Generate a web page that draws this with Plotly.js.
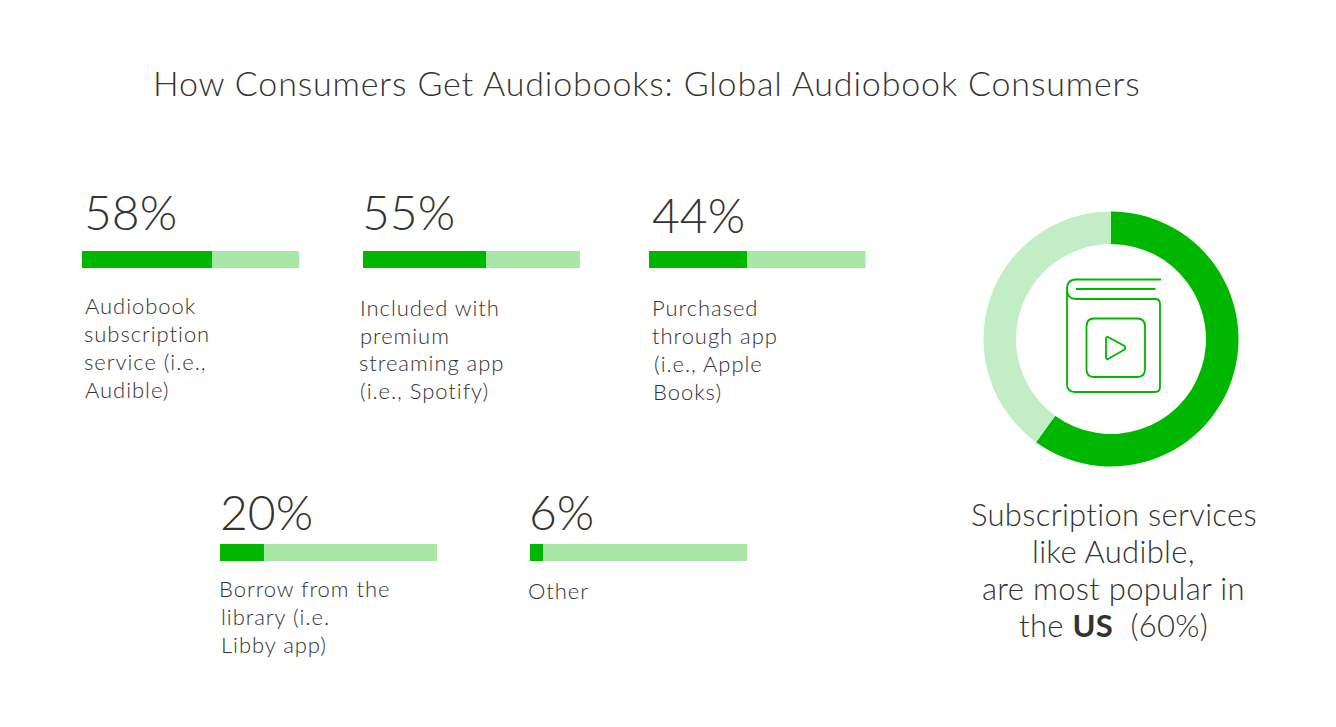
<!DOCTYPE html>
<html><head><meta charset="utf-8">
<script src="https://cdn.plot.ly/plotly-3.0.1.min.js"></script>
<style>html,body{margin:0;padding:0;background:#fff}#c{width:1336px;height:727px}
.annotation-text[style*="font-size: 34px"]{letter-spacing:.85px}
.annotation-text[style*="font-size: 22px"]{letter-spacing:.95px}
.annotation-text[style*="font-size: 31px"]{letter-spacing:.3px}
</style>
</head><body><div id="c"></div>
<script>
const W=1336,H=727;
const chartTitle="How Consumers Get Audiobooks: Global Audiobook Consumers";
const categories=["Audiobook subscription service (i.e., Audible)","Included with premium streaming app (i.e., Spotify)","Purchased through app (i.e., Apple Books)","Borrow from the library (i.e. Libby app)","Other"];
const shares=[58,55,44,20,6];
const valueLabels=["58%","55%","44%","20%","6%"];
const labelLines=[["Audiobook","subscription","service (i.e.,","Audible)"],["Included with","premium","streaming app","(i.e., Spotify)"],["Purchased","through app","(i.e., Apple","Books)"],["Borrow from the","library (i.e.","Libby app)"],["Other"]];
const donutLabels=["US subscription services","Other"];
const donutValues=[60,40];
const calloutLines=["Subscription services","like Audible,","are most popular in","the <b>US</b>  (60%)"];

const DARK="#00b700",LIGHT="#a7e8a7",PALE="#c3edc5",INK="#333333";
const boxes=[[82,299,251,268],[363,580,251,268],[648.5,865.5,251,268],[219.5,437,544,561],[530,747,544,561]];
const valuePos=[[81.5,211.5],[359.5,211.5],[650,214.5],[218,511.5],[526.5,511.5]];
const linePos=[
 [[83,305],[82,333],[82,361],[83,389]],
 [[358,307],[358,335],[357,362.5],[358,390.5]],
 [[650,307],[650,335.5],[652,363.5],[651,391.5]],
 [[217,588.5],[219,616.5],[219,644.5]],
 [[526,590.5]]];
const FULL=97;
const px=x=>x/W, py=y=>1-y/H;
const FONT="Lato";
const traces=[],layout={
 width:W,height:H,margin:{l:0,r:0,t:0,b:0},paper_bgcolor:"#fff",plot_bgcolor:"#fff",
 barmode:"stack",bargap:0,showlegend:false,font:{family:FONT,color:INK},annotations:[],shapes:[]};
const text=(t,x,y,size,anchor,weight)=>layout.annotations.push({text:t,x:px(x),y:py(y),xref:"paper",yref:"paper",xanchor:anchor||"left",yanchor:"middle",showarrow:false,font:{family:FONT,size:size,color:INK,weight:weight||300}});
text(chartTitle,647,82,34,"center");
categories.forEach((c,i)=>{
 const n=i+1,b=boxes[i];
 layout["xaxis"+n]={domain:[px(b[0]),px(b[1])],range:[0,FULL],visible:false,fixedrange:true,anchor:"y"+n};
 layout["yaxis"+n]={domain:[py(b[3]),py(b[2])],range:[-0.5,0.5],visible:false,fixedrange:true,anchor:"x"+n};
 const ax=n===1?"":n;
 traces.push({type:"bar",orientation:"h",x:[shares[i]],y:[0],width:1,xaxis:"x"+ax,yaxis:"y"+ax,marker:{color:DARK,line:{width:0}},name:c,hoverinfo:"skip"});
 traces.push({type:"bar",orientation:"h",x:[FULL-shares[i]],y:[0],width:1,xaxis:"x"+ax,yaxis:"y"+ax,marker:{color:LIGHT,line:{width:0}},name:c,hoverinfo:"skip"});
 text(valueLabels[i],valuePos[i][0],valuePos[i][1],48);
 labelLines[i].forEach((l,j)=>text(l,linePos[i][j][0],linePos[i][j][1],22));
});
layout.xaxis=layout.xaxis1;layout.yaxis=layout.yaxis1;delete layout.xaxis1;delete layout.yaxis1;
layout.xaxis.anchor="y";layout.yaxis.anchor="x";
traces.push({type:"pie",labels:donutLabels,values:donutValues,sort:false,direction:"clockwise",rotation:0,hole:0.745,textinfo:"none",hoverinfo:"skip",
 marker:{colors:[DARK,PALE],line:{width:0}},domain:{x:[px(983.5),px(1238.5)],y:[py(466.5),py(211.5)]}});
calloutLines.forEach((l,i)=>text(l,1113.5,513.5+i*37,31,"center"));
const P=(x,y)=>px(x).toFixed(5)+","+py(y).toFixed(5);
const icon=(d)=>layout.shapes.push({type:"path",xref:"paper",yref:"paper",path:d,line:{color:DARK,width:1.8},fillcolor:"rgba(0,0,0,0)"});
icon(`M${P(1161,279.5)} L${P(1076,279.5)} Q${P(1067,279.5)} ${P(1067,289.5)} Q${P(1067,299)} ${P(1076,299)} L${P(1155,299)} Q${P(1160,299)} ${P(1160,304)} L${P(1160,387)} Q${P(1160,392)} ${P(1155,392)} L${P(1075,392)} Q${P(1067,392)} ${P(1067,384)} L${P(1067,289.5)}`);
icon(`M${P(1076,289)} L${P(1155.5,289)}`);
icon(`M${P(1094,318.5)} L${P(1137,318.5)} Q${P(1145,318.5)} ${P(1145,326.5)} L${P(1145,369)} Q${P(1145,377)} ${P(1137,377)} L${P(1094,377)} Q${P(1086.5,377)} ${P(1086.5,369)} L${P(1086.5,326.5)} Q${P(1086.5,318.5)} ${P(1094,318.5)} Z`);
icon(`M${P(1106,339)} Q${P(1106,336)} ${P(1109,337.5)} L${P(1124.5,346)} Q${P(1126,348)} ${P(1124.5,349.5)} L${P(1109,358.5)} Q${P(1106,360)} ${P(1106,357)} Z`);
Plotly.newPlot("c",traces,layout,{displayModeBar:false,staticPlot:true});
</script></body></html>
